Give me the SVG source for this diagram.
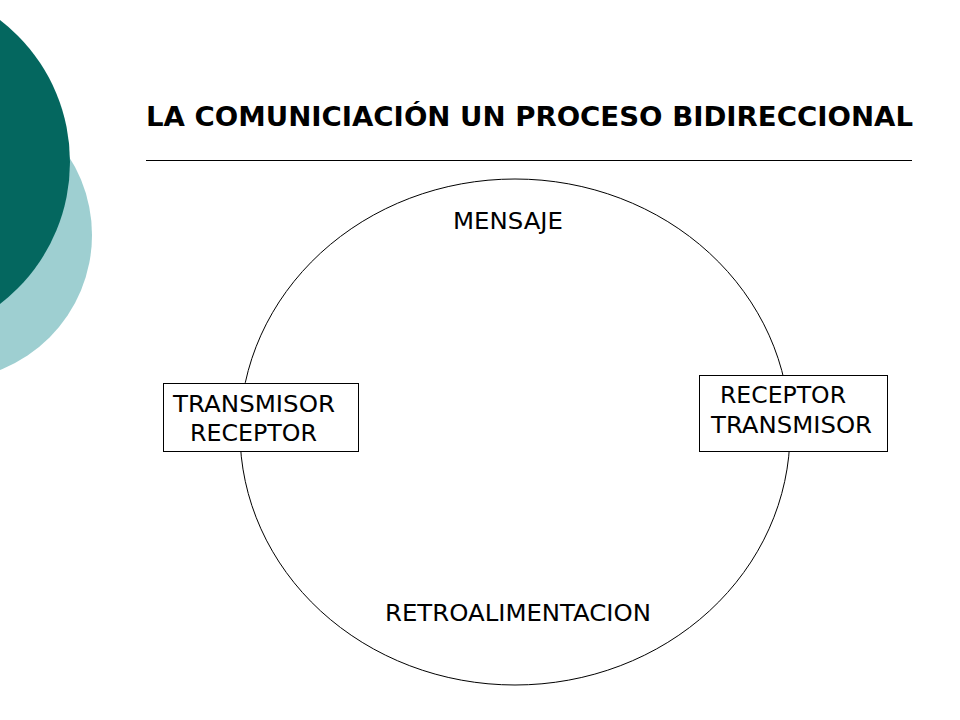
<svg xmlns="http://www.w3.org/2000/svg" width="960" height="720" viewBox="0 0 960 720">
<style>
.t{font-family:"DejaVu Sans","Liberation Sans",sans-serif;font-size:23px;fill:#000}
.title{font-family:"DejaVu Sans","Liberation Sans",sans-serif;font-size:27px;font-weight:bold;fill:#000}
.box{fill:#fff;stroke:#000;stroke-width:1}
</style>
<rect width="960" height="720" fill="#fff"/>
<g id="decor">
<circle cx="-53" cy="235" r="145" fill="#9ecfd1"/>
<circle cx="-109" cy="162" r="179" fill="#04675f"/>
</g>
<g id="title">
<text class="title" x="146" y="126" textLength="767" lengthAdjust="spacingAndGlyphs">LA COMUNICIACIÓN UN PROCESO BIDIRECCIONAL</text>
<line x1="146" y1="160.5" x2="912" y2="160.5" stroke="#000" stroke-width="1"/>
</g>
<g id="connectors">
<ellipse cx="515" cy="432" rx="275" ry="253" fill="none" stroke="#000" stroke-width="1"/>
</g>
<g id="mensaje">
<text class="t" x="453" y="229" textLength="110" lengthAdjust="spacingAndGlyphs">MENSAJE</text>
</g>
<g id="retroalimentacion">
<text class="t" x="385" y="621" textLength="266" lengthAdjust="spacingAndGlyphs">RETROALIMENTACION</text>
</g>
<g id="transmisor-receptor">
<rect class="box" x="163.5" y="383.5" width="195" height="68"/>
<text class="t" x="173" y="412" textLength="162" lengthAdjust="spacingAndGlyphs">TRANSMISOR</text>
<text class="t" x="190" y="441" textLength="127" lengthAdjust="spacingAndGlyphs">RECEPTOR</text>
</g>
<g id="receptor-transmisor">
<rect class="box" x="699.5" y="375.5" width="188" height="76"/>
<text class="t" x="720" y="403" textLength="126" lengthAdjust="spacingAndGlyphs">RECEPTOR</text>
<text class="t" x="711" y="433" textLength="161" lengthAdjust="spacingAndGlyphs">TRANSMISOR</text>
</g>
</svg>
